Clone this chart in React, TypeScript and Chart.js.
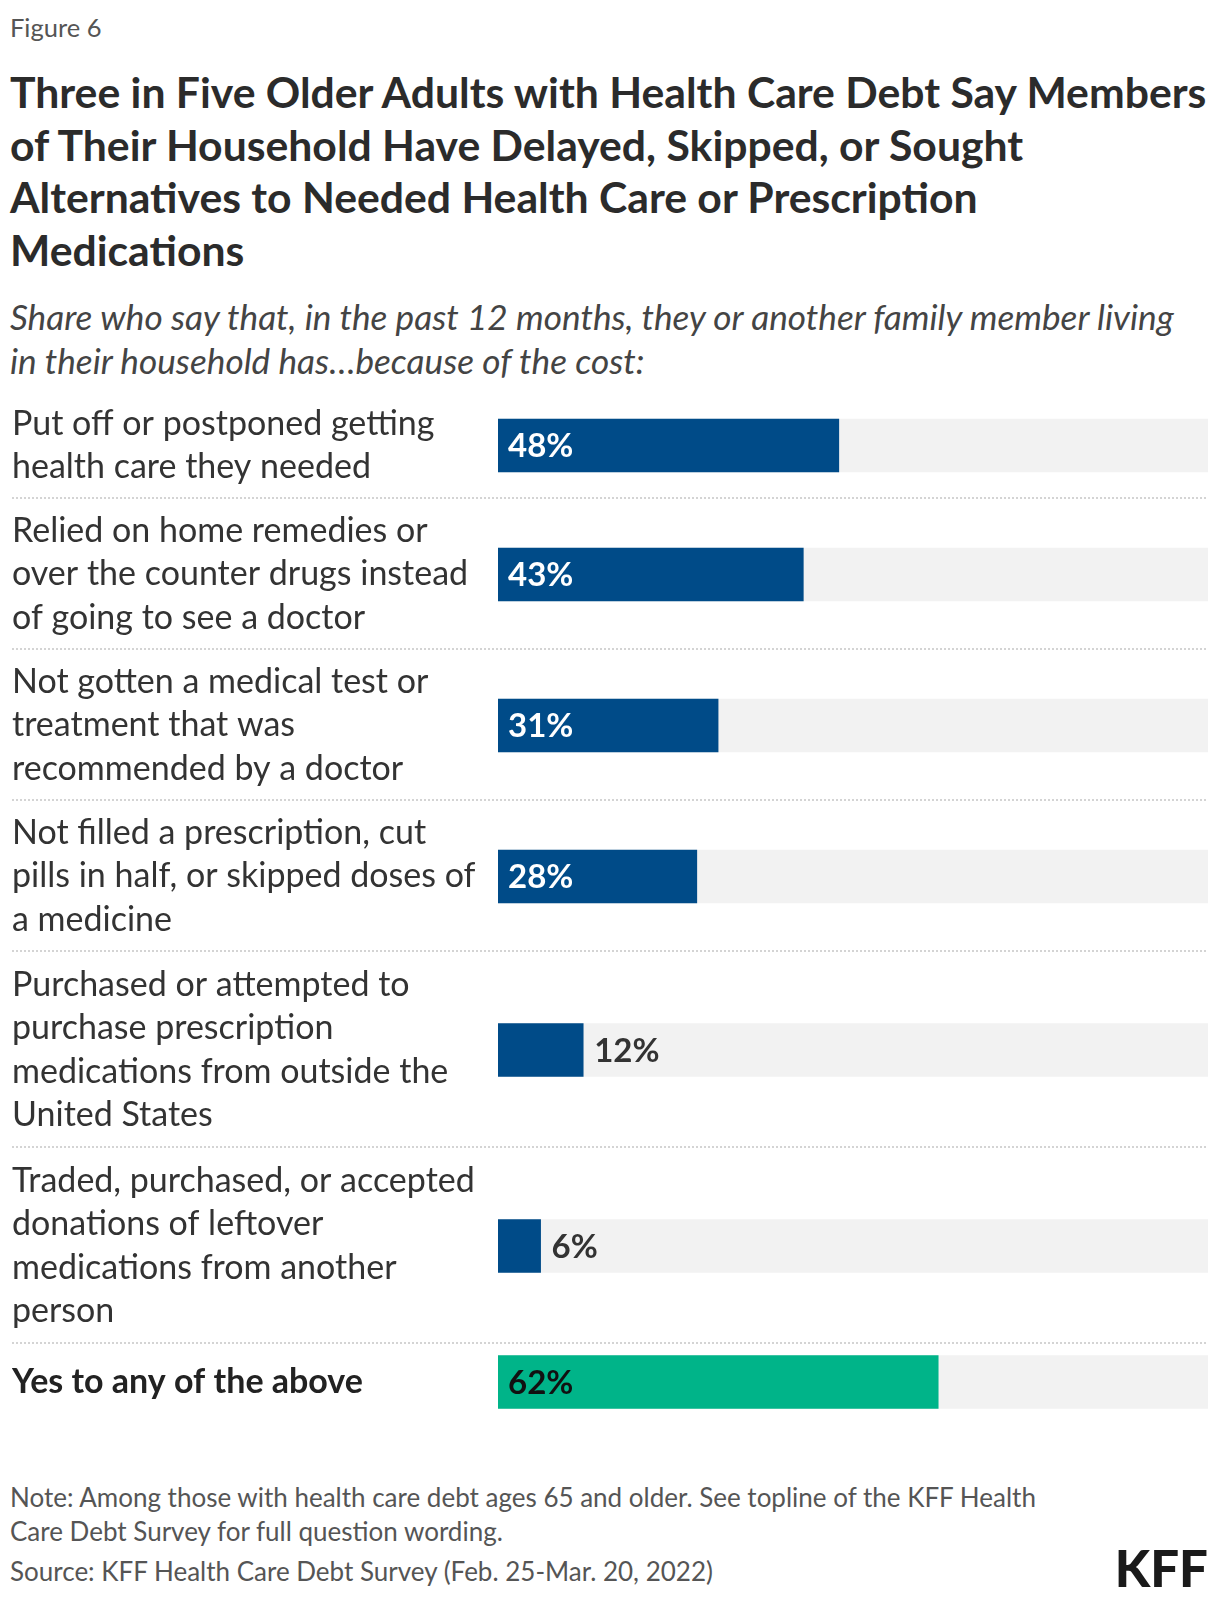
import React, { useEffect, useRef } from "react";
import { Chart, registerables } from "chart.js";

Chart.register(...registerables);

// ---------- data ----------
const categories: string[][] = [
  ["Put off or postponed getting", "health care they needed"],
  ["Relied on home remedies or", "over the counter drugs instead", "of going to see a doctor"],
  ["Not gotten a medical test or", "treatment that was", "recommended by a doctor"],
  ["Not filled a prescription, cut", "pills in half, or skipped doses of", "a medicine"],
  ["Purchased or attempted to", "purchase prescription", "medications from outside the", "United States"],
  ["Traded, purchased, or accepted", "donations of leftover", "medications from another", "person"],
  ["Yes to any of the above"],
];
const values: number[] = [48, 43, 31, 28, 12, 6, 62];
const isTotalRow: boolean[] = [false, false, false, false, false, false, true];
const scaleMax = 100;

const titleLines: string[] = [
  "Three in Five Older Adults with Health Care Debt Say Members",
  "of Their Household Have Delayed, Skipped, or Sought",
  "Alternatives to Needed Health Care or Prescription",
  "Medications",
];
const subtitleLines: string[] = [
  "Share who say that, in the past 12 months, they or another family member living",
  "in their household has…because of the cost:",
];
const noteLines: string[] = [
  "Note: Among those with health care debt ages 65 and older. See topline of the KFF Health",
  "Care Debt Survey for full question wording.",
];
const sourceText = "Source: KFF Health Care Debt Survey (Feb. 25-Mar. 20, 2022)";

// ---------- style ----------
const FONT = "Lato, 'Noto Sans', sans-serif";
const BLUE = "#004b88";
const GREEN = "#00b489";
const TRACK = "#f2f2f2";
const TEXT = "#333333";
const LABEL_SIZE = 34;
const VALUE_SIZE = 33;
const LABEL_LINE = 43.1;
const BAR_H = 53;
const CANVAS_W = 1196;
const AXIS_W = 486;
const INSIDE_MIN = 20;

function rowHeight(lines: number): number {
  return Math.round(Math.max(lines * 44.5 + 17.5, BAR_H + 22.7));
}

const valueLabelPlugin = {
  id: "valueLabels",
  afterDatasetsDraw(chart: any) {
    const ctx = chart.ctx;
    const meta = chart.getDatasetMeta(0);
    const ds = chart.data.datasets[0];
    meta.data.forEach((bar: any, i: number) => {
      const v = ds.data[i] as number;
      const total = (ds as any).isTotal;
      const inside = v >= INSIDE_MIN;
      ctx.save();
      ctx.textBaseline = "middle";
      ctx.textAlign = "left";
      ctx.font = `bold ${VALUE_SIZE}px ${FONT}`;
      if (inside) {
        ctx.fillStyle = total ? "#111111" : "#ffffff";
        ctx.fillText(`${v}%`, bar.base + 10, bar.y + 1);
      } else {
        ctx.fillStyle = TEXT;
        ctx.fillText(`${v}%`, bar.x + 11, bar.y + 1);
      }
      ctx.restore();
    });
  },
};

const separatorPlugin = {
  id: "separator",
  afterDraw(chart: any, _args: any, opts: any) {
    if (!opts || !opts.show) return;
    const ctx = chart.ctx;
    ctx.save();
    ctx.strokeStyle = "#d4d4d4";
    ctx.lineWidth = 2;
    ctx.setLineDash([2, 2]);
    ctx.beginPath();
    ctx.moveTo(0, chart.height - 1);
    ctx.lineTo(chart.width, chart.height - 1);
    ctx.stroke();
    ctx.restore();
  },
};

function BarRow(props: { label: string[]; value: number; total: boolean; sep: boolean }) {
  const ref = useRef<HTMLCanvasElement>(null);
  const h = rowHeight(props.label.length);
  useEffect(() => {
    if (!ref.current) return;
    const chart = new Chart(ref.current, {
      type: "bar",
      data: {
        labels: [props.label],
        datasets: [
          {
            data: [props.value],
            backgroundColor: props.total ? GREEN : BLUE,
            barThickness: BAR_H,
            stack: "row",
            order: 1,
            isTotal: props.total,
          } as any,
          {
            data: [scaleMax],
            backgroundColor: TRACK,
            barThickness: BAR_H,
            stack: "row",
            order: 2,
          } as any,
        ],
      },
      options: {
        indexAxis: "y",
        animation: false,
        responsive: false,
        maintainAspectRatio: false,
        layout: { padding: 0 },
        events: [],
        plugins: {
          legend: { display: false },
          tooltip: { enabled: false },
          separator: { show: props.sep },
        } as any,
        scales: {
          x: { display: false, min: 0, max: scaleMax, stacked: false },
          y: {
            grid: { display: false },
            border: { display: false },
            ticks: {
              crossAlign: "far",
              padding: 0,
              color: props.total ? "#222222" : TEXT,
              font: {
                family: FONT,
                size: LABEL_SIZE,
                weight: props.total ? "bold" : "normal",
                lineHeight: LABEL_LINE / LABEL_SIZE,
              },
            },
            afterFit: (s: any) => {
              s.width = AXIS_W;
              s.paddingTop = 0;
              s.paddingBottom = 0;
            },
          } as any,
        },
      },
      plugins: [valueLabelPlugin, separatorPlugin],
    });
    return () => chart.destroy();
  }, []);
  return <canvas ref={ref} width={CANVAS_W} height={h} style={{ display: "block", width: CANVAS_W, height: h }} />;
}

export default function App() {
  return (
    <div
      style={{
        position: "absolute",
        left: 0,
        top: 0,
        width: 1220,
        height: 1602,
        background: "#ffffff",
        fontFamily: FONT,
        overflow: "hidden",
      }}
    >
      <div style={{ position: "absolute", left: 10, top: 11, fontSize: 25.5, lineHeight: "32px", color: "#555" }}>
        Figure 6
      </div>
      <div
        style={{
          position: "absolute",
          left: 10,
          top: 66,
          fontSize: 42.7,
          fontWeight: 700,
          lineHeight: "52.7px",
          color: "#2b2b2b",
          whiteSpace: "nowrap",
        }}
      >
        {titleLines.map((t, i) => (
          <div key={i}>{t}</div>
        ))}
      </div>
      <div
        style={{
          position: "absolute",
          left: 10,
          top: 294,
          fontSize: 35.2,
          fontStyle: "italic",
          lineHeight: "44px",
          color: "#444",
          whiteSpace: "nowrap",
        }}
      >
        {subtitleLines.map((t, i) => (
          <div key={i}>{t}</div>
        ))}
      </div>
      <div style={{ position: "absolute", left: 12, top: 392 }}>
        {categories.map((c, i) => (
          <BarRow key={i} label={c} value={values[i]} total={isTotalRow[i]} sep={i < categories.length - 1} />
        ))}
      </div>
      <div
        style={{
          position: "absolute",
          left: 10,
          top: 1480,
          fontSize: 26,
          lineHeight: "34px",
          color: "#555",
          whiteSpace: "nowrap",
        }}
      >
        {noteLines.map((t, i) => (
          <div key={i}>{t}</div>
        ))}
        <div style={{ marginTop: 6 }}>{sourceText}</div>
      </div>
      <div
        style={{
          position: "absolute",
          right: 12,
          top: 1543,
          fontSize: 51,
          fontWeight: 900,
          lineHeight: "50px",
          color: "#1a1a1a",
        }}
      >
        KFF
      </div>
    </div>
  );
}
